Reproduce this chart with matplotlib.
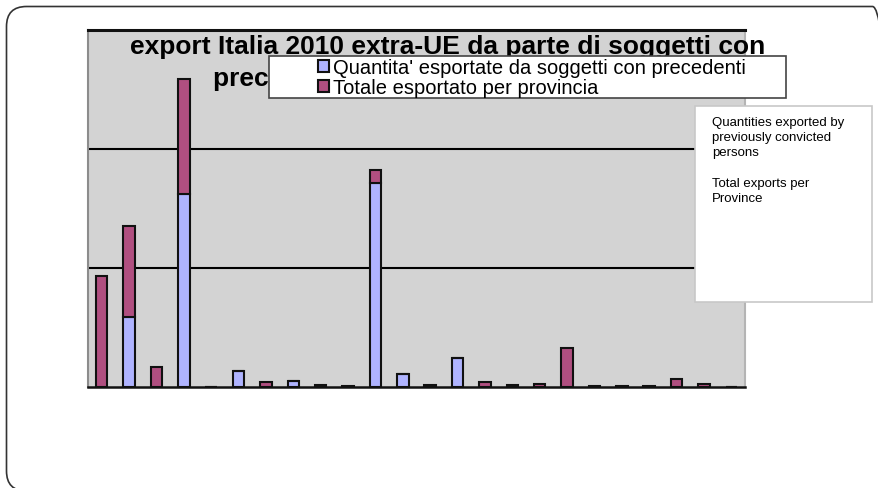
import matplotlib
matplotlib.use("Agg")
import matplotlib.pyplot as plt
from matplotlib.patches import Patch, Rectangle, FancyBboxPatch
from matplotlib.transforms import IdentityTransform

plt.rcParams['font.family'] = ['Liberation Sans', 'DejaVu Sans']

# 24 province, valori in migliaia di tonnellate (stima)
province = list(range(24))
con_precedenti = [0.0, 0.585, 0.0, 1.62, 0.0, 0.136, 0.0, 0.053, 0.0, 0.0, 1.715, 0.11,
                  0.0, 0.245, 0.0, 0.0, 0.0, 0.0, 0.0, 0.0, 0.0, 0.0, 0.0, 0.0]
resto_provincia = [0.93, 0.765, 0.165, 0.97, 0.003, 0.0, 0.04, 0.0, 0.014, 0.005, 0.11, 0.0,
                   0.02, 0.0, 0.045, 0.017, 0.025, 0.324, 0.005, 0.005, 0.005, 0.064, 0.025, 0.0]

blu = '#AFB3FF'
viola = '#B04F80'
W, H = 879, 489

fig = plt.figure(figsize=(W / 100, H / 100), dpi=100)

# cornice della slide
fig.patches.append(FancyBboxPatch((6.5, H - 492), 886, 484.5,
                                  boxstyle="round,pad=0,rounding_size=20",
                                  transform=IdentityTransform(), fc='none',
                                  ec='#333333', lw=1.2, figure=fig))

ax = fig.add_axes([88 / W, (H - 388) / H, 657 / W, 357 / H])
ax.set_facecolor('#D3D3D3')
ax.bar(province, con_precedenti, width=0.42, color=blu, edgecolor='#111111', lw=1.5, zorder=3)
ax.bar(province, resto_provincia, width=0.42, bottom=con_precedenti, color=viola,
       edgecolor='#111111', lw=1.5, zorder=3)
ax.set_xlim(-0.5, 23.5)
ax.set_ylim(0, 3)
ax.set_yticks([1, 2])
ax.yaxis.grid(True, color='black', lw=1.5)
ax.set_axisbelow(True)
ax.set_xticks([])
ax.tick_params(left=False, labelleft=False)
ax.spines['top'].set_color('#111111')
ax.spines['top'].set_linewidth(2.2)
ax.spines['bottom'].set_color('#111111')
ax.spines['bottom'].set_linewidth(1.8)
ax.spines['left'].set_color('#8c8c8c')
ax.spines['left'].set_linewidth(1.5)
ax.spines['right'].set_color('#b4b4b4')
ax.spines['right'].set_linewidth(1.5)

# titolo su due righe: la seconda resta in parte sotto la legenda
fig.text(448 / W, 1 - 54 / H, "export Italia 2010 extra-UE da parte di soggetti con",
         ha='center', va='baseline', fontsize=19, fontweight='bold', zorder=3)
fig.text(213 / W, 1 - 86 / H, "precedenti penali per provincia",
         ha='left', va='baseline', fontsize=19, fontweight='bold', zorder=3)

# riquadro legenda
fig.patches.append(Rectangle((269 / W, 1 - 99 / H), 517 / W, 42 / H, transform=fig.transFigure,
                             fc='white', ec='#444444', lw=1.2, zorder=5, figure=fig))
maniglie = [Patch(fc=blu, ec='#111111', lw=1.5), Patch(fc=viola, ec='#111111', lw=1.5)]
leg = fig.legend(maniglie, ["Quantita' esportate da soggetti con precedenti",
                            "Totale esportato per provincia"],
                 loc='upper left', bbox_to_anchor=(318 / W, 1 - 59 / H), frameon=False,
                 fontsize=14.5, handlelength=0.55, handleheight=0.55, handletextpad=0.2,
                 labelspacing=0.05, borderpad=0.0, borderaxespad=0.0)
leg.set_zorder(6)

# riquadro con la traduzione
fig.patches.append(Rectangle((695 / W, 1 - 303 / H), 177 / W, 196 / H, transform=fig.transFigure,
                             fc='white', ec='#c8c8c8', lw=1.2, zorder=5, figure=fig))
fig.text(712 / W, 1 - 117 / H,
         "Quantities exported by\npreviously convicted\npersons\n\nTotal exports per\nProvince",
         ha='left', va='top', fontsize=9.5, linespacing=1.35, zorder=6)

fig.savefig('out.png', dpi=100)
